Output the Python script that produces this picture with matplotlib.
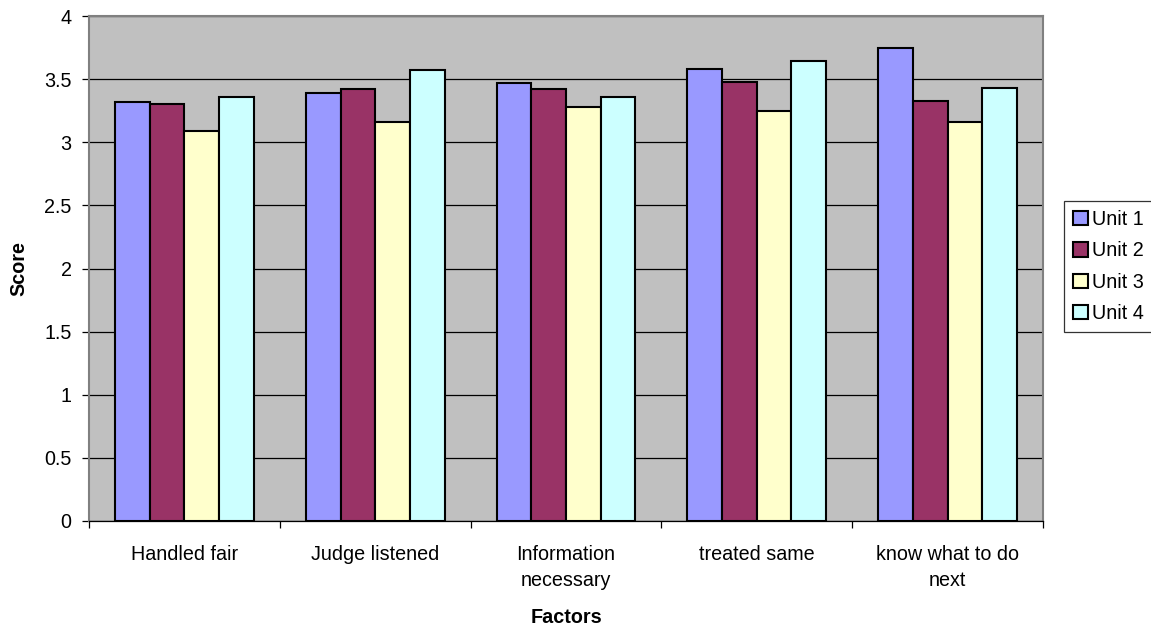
import matplotlib
matplotlib.use("Agg")
import matplotlib.pyplot as plt
import numpy as np
from matplotlib.patches import Patch

plt.rcParams['font.family'] = ['Liberation Sans', 'DejaVu Sans']

factors = ["Handled fair", "Judge listened", "Information\nnecessary",
           "treated same", "know what to do\nnext"]
series_names = ["Unit 1", "Unit 2", "Unit 3", "Unit 4"]
unit1 = [3.32, 3.39, 3.47, 3.58, 3.75]
unit2 = [3.30, 3.42, 3.42, 3.48, 3.33]
unit3 = [3.09, 3.16, 3.28, 3.25, 3.16]
unit4 = [3.36, 3.57, 3.36, 3.64, 3.43]
colors = ["#9999FF", "#993366", "#FFFFCC", "#CCFFFF"]
yticks = [0, 0.5, 1, 1.5, 2, 2.5, 3, 3.5, 4]
ytick_labels = ["0", "0.5", "1", "1.5", "2", "2.5", "3", "3.5", "4"]

W, H = 1151, 629
fig = plt.figure(figsize=(W / 100, H / 100), dpi=100)
ax = fig.add_axes([89 / W, 1 - 521 / H, (1043 - 89) / W, (521 - 16) / H])
ax.set_facecolor("#C0C0C0")

fs = 14.2
x = np.arange(len(factors))
bw = 1 / 5.5
for k, vals in enumerate([unit1, unit2, unit3, unit4]):
    ax.bar(x + (k - 1.5) * bw, vals, width=bw, color=colors[k],
           edgecolor="black", linewidth=1.5, zorder=3, label=series_names[k])

ax.set_xlim(-0.5, len(factors) - 0.5)
ax.set_ylim(0, 4)
ax.set_yticks(yticks)
ax.set_yticklabels(ytick_labels, fontsize=fs)
ax.yaxis.grid(True, color="black", linewidth=0.9, zorder=1)
ax.set_axisbelow(True)
ax.tick_params(axis="y", direction="out", length=5, width=0.9, pad=7.5,
               colors="black")

# category boundaries carry the tick marks, labels sit at category centres
ax.set_xticks(np.arange(len(factors) + 1) - 0.5)
ax.set_xticklabels([])
ax.tick_params(axis="x", which="major", direction="out", length=5, width=0.9)
ax.set_xticks(x, minor=True)
ax.set_xticklabels(factors, minor=True, fontsize=fs, linespacing=1.5)
ax.tick_params(axis="x", which="minor", length=0, pad=17)

for side in ["top", "right", "left"]:
    ax.spines[side].set_color("#808080")
    ax.spines[side].set_linewidth(1.5)
ax.spines["bottom"].set_color("black")
ax.spines["bottom"].set_linewidth(0.9)

ax.set_ylabel("Score", fontsize=fs, fontweight="bold", labelpad=11)
ax.set_xlabel("Factors", fontsize=fs, fontweight="bold", labelpad=13)

handles = [Patch(facecolor=c, edgecolor="black", linewidth=1.5) for c in colors]
leg = fig.legend(handles, series_names, loc="upper left",
                 bbox_to_anchor=(1064 / W, 1 - 201 / H), fontsize=fs,
                 frameon=True, fancybox=False, borderpad=0.45,
                 handlelength=0.75, handleheight=0.75, handletextpad=0.2,
                 labelspacing=0.63, borderaxespad=0)
leg.get_frame().set_edgecolor("black")
leg.get_frame().set_linewidth(0.9)

fig.savefig("out.png", dpi=100)
